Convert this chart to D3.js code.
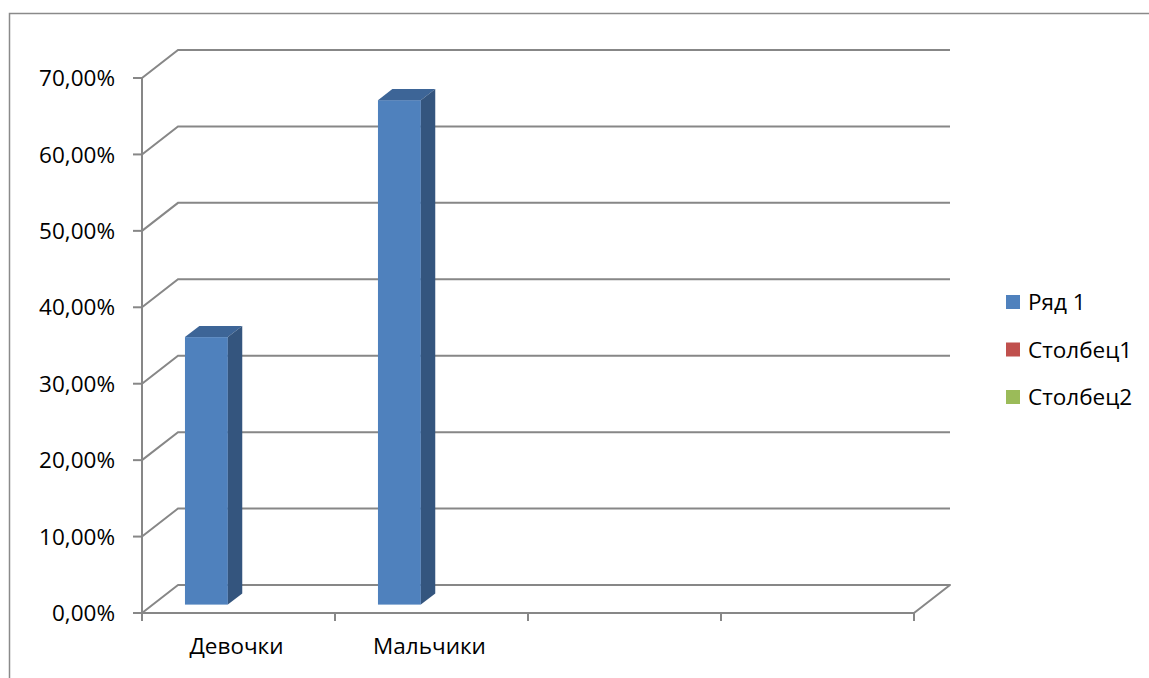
<!DOCTYPE html>
<html><head><meta charset="utf-8">
<script src="https://cdn.jsdelivr.net/npm/d3@7"></script>
<style>body{margin:0;background:#fff}svg{display:block}text{font-family:"Open Sans","Noto Sans",sans-serif;fill:#000}</style>
</head><body>
<script>
const categories = ["Девочки", "Мальчики", "", ""];
const seriesNames = ["Ряд 1", "Столбец1", "Столбец2"];
const seriesValues = [
  [0.35, 0.66, null, null],
  [null, null, null, null],
  [null, null, null, null]
];
const seriesColors = ["#4F81BD", "#C0504D", "#9BBB59"];
const yTicks = [0, 0.1, 0.2, 0.3, 0.4, 0.5, 0.6, 0.7];

const W = 1149, H = 678;
const svg = d3.select("body").append("svg").attr("width", W).attr("height", H);
const grid = "#878787";
const FS = "22.5px";

// outer frame
svg.append("rect").attr("x", 9.5).attr("y", 13.5).attr("width", 1200).attr("height", 800)
  .attr("fill", "none").attr("stroke", "#8a8a8a").attr("stroke-width", 1.5);

const DX = 36, DY = -28; // depth offset
const x = d3.scaleBand().domain(d3.range(categories.length)).range([142, 914]).padding(0);
const y = d3.scaleLinear().domain([0, 0.7]).range([613, 78]);
const xs = d3.scaleBand().domain(seriesNames).range([0, x.bandwidth()]).paddingInner(0).paddingOuter(0.75);

const locale = d3.formatLocale({decimal: ",", thousands: " ", grouping: [3], currency: ["", ""]});
const fmt = locale.format(".2%");

const g = svg.append("g");
yTicks.forEach(t => {
  const yy = y(t);
  if (t > 0) {
    g.append("path").attr("d", `M${x.range()[0]},${yy}L${x.range()[0] + DX},${yy + DY}L${x.range()[1] + DX},${yy + DY}`)
      .attr("fill", "none").attr("stroke", grid).attr("stroke-width", 2);
  }
});
const x0 = x.range()[0], x1 = x.range()[1], y0 = y(0);
g.append("path").attr("d", `M${x0},${y0}L${x0 + DX},${y0 + DY}L${x1 + DX},${y0 + DY}L${x1},${y0}Z`)
  .attr("fill", "none").attr("stroke", grid).attr("stroke-width", 2).attr("stroke-linejoin", "round");
g.append("line").attr("x1", x0).attr("x2", x0).attr("y1", y(0.7)).attr("y2", y0 + 7)
  .attr("stroke", grid).attr("stroke-width", 2);
yTicks.forEach(t => {
  g.append("line").attr("x1", x0 - 9).attr("x2", x0).attr("y1", y(t)).attr("y2", y(t))
    .attr("stroke", grid).attr("stroke-width", 2);
  g.append("text").attr("x", 115).attr("y", y(t)).attr("dy", "0.36em")
    .attr("text-anchor", "end").style("font-size", FS).text(fmt(t));
});
const xTickPos = categories.map((c, i) => x(i)).concat([x1]);
xTickPos.forEach(p => {
  g.append("line").attr("x1", p).attr("x2", p).attr("y1", y0).attr("y2", y0 + 8)
    .attr("stroke", grid).attr("stroke-width", 2);
});
categories.forEach((c, i) => {
  g.append("text").attr("x", x(i) + x.bandwidth() / 2 - 2).attr("y", 654)
    .attr("text-anchor", "middle").style("font-size", FS).text(c);
});

const f0 = 0.3, f1 = 0.7;
seriesNames.forEach((s, si) => {
  seriesValues[si].forEach((v, ci) => {
    if (v == null) return;
    const bx = x(ci) + xs(s) + DX * f0;
    const bw = xs.bandwidth();
    const by0 = y(0) + DY * f0;
    const by1 = y(v) + DY * f0;
    const ddx = DX * (f1 - f0), ddy = DY * (f1 - f0);
    const col = seriesColors[si];
    g.append("rect").attr("x", bx).attr("y", by1).attr("width", bw).attr("height", by0 - by1).attr("fill", col);
    g.append("path").attr("d", `M${bx},${by1}L${bx + ddx},${by1 + ddy}L${bx + bw + ddx},${by1 + ddy}L${bx + bw},${by1}Z`)
      .attr("fill", "#3D6597");
    g.append("path").attr("d", `M${bx + bw},${by1}L${bx + bw + ddx},${by1 + ddy}L${bx + bw + ddx},${by0 + ddy}L${bx + bw},${by0}Z`)
      .attr("fill", "#34557E");
  });
});

const leg = svg.append("g");
seriesNames.forEach((s, i) => {
  const ly = 302 + i * 47.5;
  leg.append("rect").attr("x", 1006).attr("y", ly - 7).attr("width", 14).attr("height", 14).attr("fill", seriesColors[i]);
  leg.append("text").attr("x", 1028).attr("y", ly).attr("dy", "0.36em").style("font-size", FS).text(s);
});
</script>
</body></html>
